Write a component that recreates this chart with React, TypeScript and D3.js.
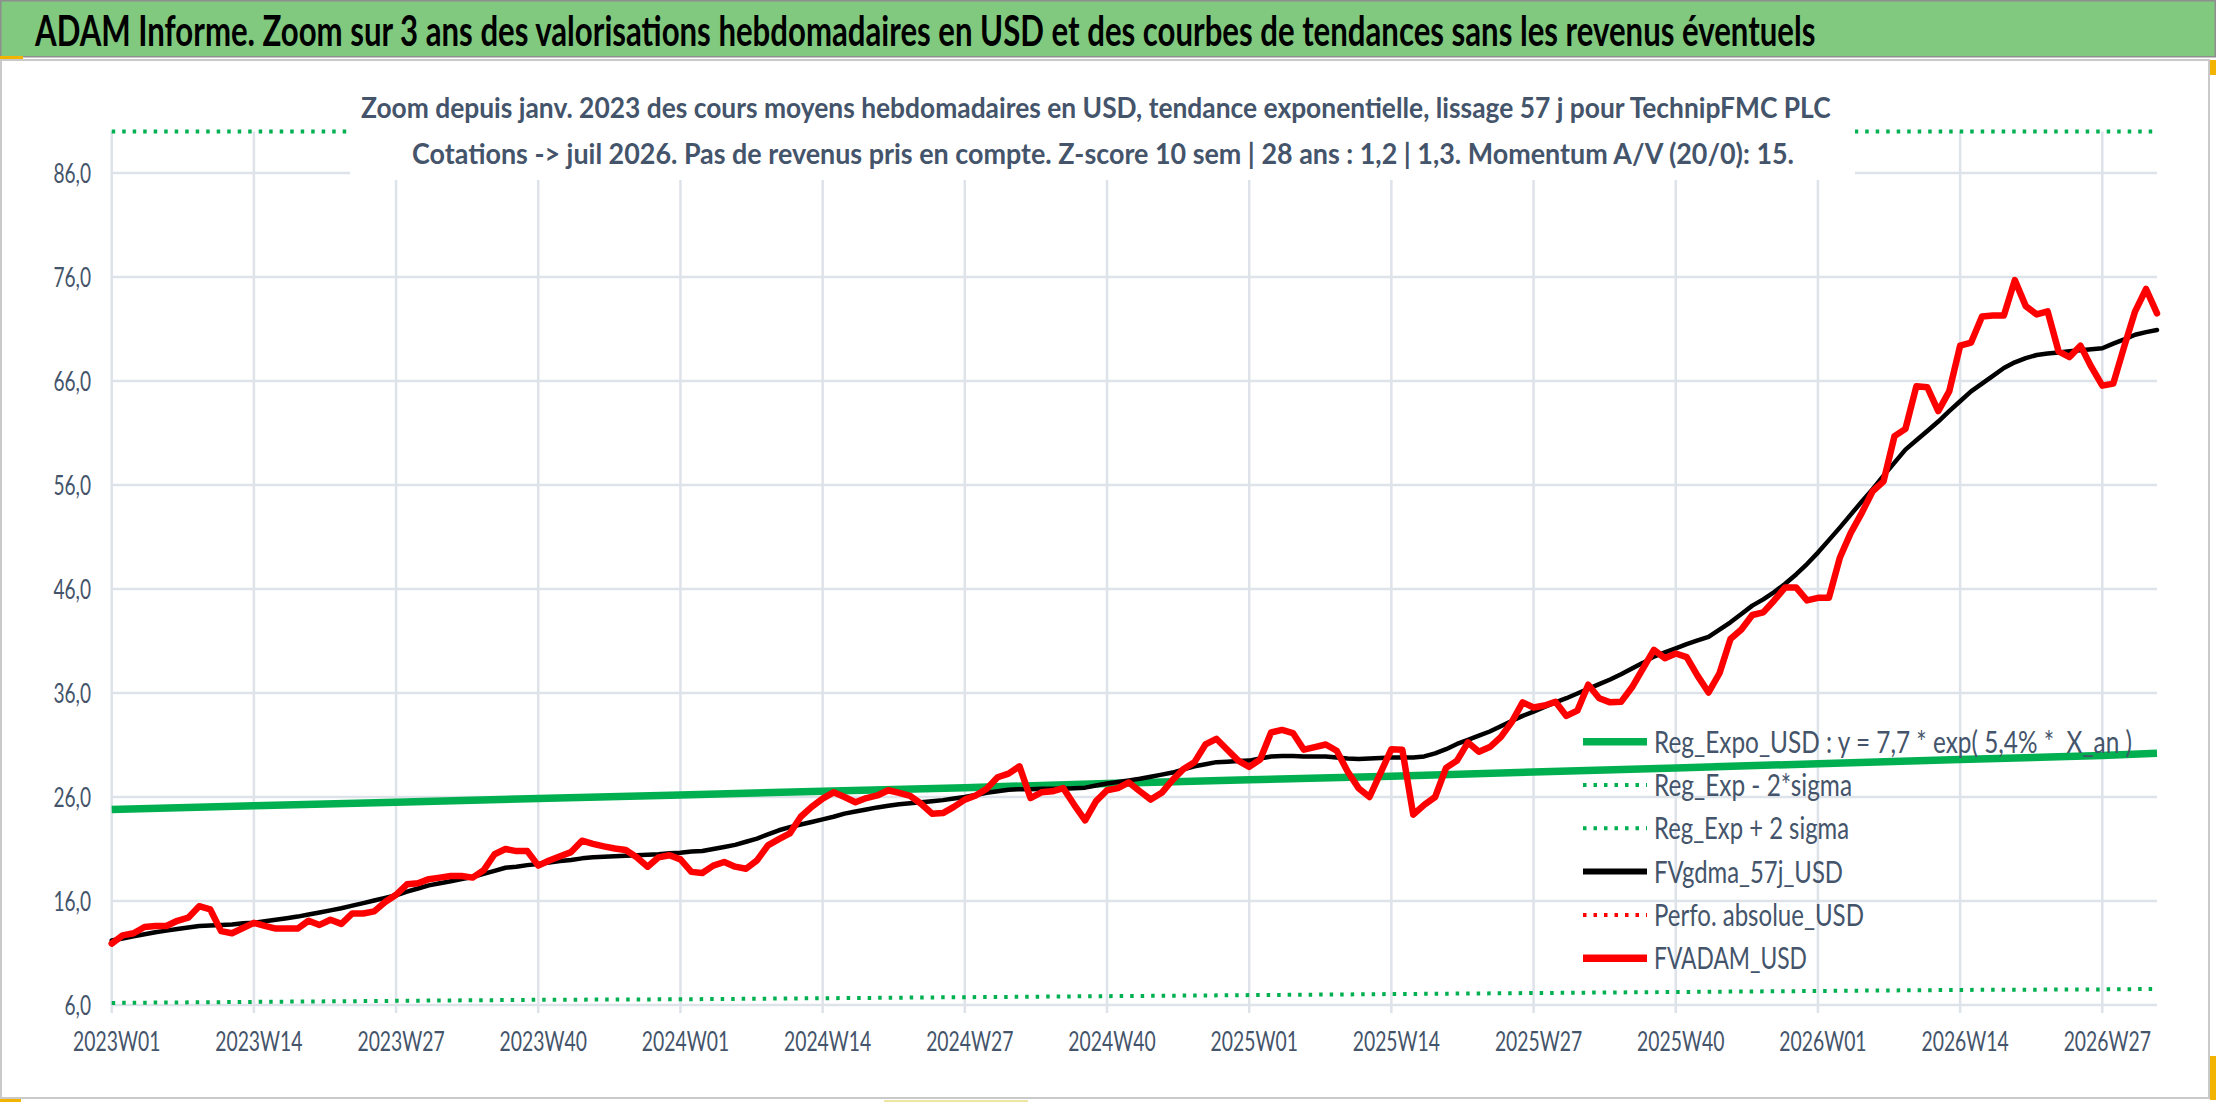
import React, { useLayoutEffect, useRef, useState } from 'react';
import * as d3 from 'd3';

// ---------- categories ----------
const YEAR_WEEKS: [number, number][] = [[2023, 52], [2024, 52], [2025, 52], [2026, 32]];
const weeks: string[] = YEAR_WEEKS.flatMap(([yr, n]) =>
  d3.range(1, n + 1).map((w) => `${yr}W${String(w).padStart(2, '0')}`)
);

const tickLabels = [
  '2023W01', '2023W14', '2023W27', '2023W40', '2024W01', '2024W14', '2024W27', '2024W40',
  '2025W01', '2025W14', '2025W27', '2025W40', '2026W01', '2026W14', '2026W27',
];
const yTicks = [6, 16, 26, 36, 46, 56, 66, 76, 86];

// ---------- series ----------
const fvadamUsd = [
  11.9, 12.7, 12.9, 13.5, 13.6, 13.6, 14.1, 14.4, 15.5, 15.2,
  13.1, 12.9, 13.4, 13.9, 13.6, 13.35, 13.35, 13.35, 14.1, 13.7,
  14.2, 13.8, 14.8, 14.8, 15.0, 15.9, 16.6, 17.6, 17.7, 18.1,
  18.25, 18.4, 18.4, 18.25, 18.95, 20.5, 21.0, 20.8, 20.8, 19.4,
  19.9, 20.3, 20.7, 21.8, 21.5, 21.25, 21.05, 20.9, 20.2, 19.3,
  20.2, 20.4, 20.0, 18.8, 18.7, 19.4, 19.75, 19.3, 19.1, 19.9,
  21.35, 21.95, 22.5, 24.1, 25.05, 25.85, 26.45, 26.0, 25.5, 25.9,
  26.15, 26.65, 26.4, 26.1, 25.35, 24.4, 24.45, 25.05, 25.75, 26.15,
  26.8, 27.9, 28.25, 28.95, 25.9, 26.45, 26.55, 26.85, 25.25, 23.75,
  25.6, 26.65, 26.85, 27.4, 26.55, 25.75, 26.4, 27.65, 28.7, 29.35,
  31.05, 31.6, 30.55, 29.5, 28.9, 29.6, 32.2, 32.45, 32.15, 30.55,
  30.8, 31.05, 30.45, 28.45, 26.85, 26.0, 28.3, 30.6, 30.55, 24.3,
  25.25, 26.0, 28.8, 29.5, 31.25, 30.35, 30.8, 31.75, 33.2, 35.1,
  34.6, 34.8, 35.15, 33.8, 34.3, 36.8, 35.5, 35.1, 35.15, 36.55,
  38.35, 40.15, 39.35, 39.8, 39.45, 37.65, 36.05, 37.9, 41.2, 42.1,
  43.5, 43.75, 44.9, 46.15, 46.15, 44.9, 45.15, 45.15, 49.0, 51.4,
  53.3, 55.4, 56.35, 60.7, 61.4, 65.5, 65.4, 63.1, 65.0, 69.4,
  69.7, 72.2, 72.3, 72.3, 75.7, 73.2, 72.4, 72.7, 68.85, 68.3,
  69.4, 67.35, 65.55, 65.75, 69.3, 72.7, 74.85, 72.5,
];

const fvgdma57jUsd = [
  12.2, 12.4, 12.6, 12.8, 13.0, 13.15, 13.3, 13.45, 13.6, 13.65,
  13.7, 13.75, 13.85, 13.9, 14.05, 14.2, 14.35, 14.5, 14.7, 14.9,
  15.1, 15.3, 15.55, 15.8, 16.05, 16.3, 16.55, 16.9, 17.2, 17.5,
  17.7, 17.9, 18.1, 18.3, 18.6, 18.9, 19.2, 19.3, 19.45, 19.55,
  19.7, 19.85, 19.95, 20.1, 20.2, 20.25, 20.3, 20.35, 20.4, 20.45,
  20.5, 20.6, 20.65, 20.75, 20.8, 21.0, 21.2, 21.4, 21.7, 22.0,
  22.4, 22.8, 23.1, 23.35, 23.6, 23.85, 24.1, 24.4, 24.6, 24.8,
  25.0, 25.15, 25.3, 25.4, 25.5, 25.6, 25.7, 25.85, 26.0, 26.2,
  26.4, 26.55, 26.7, 26.75, 26.75, 26.8, 26.8, 26.8, 26.85, 26.9,
  27.1, 27.3, 27.45, 27.6, 27.75, 27.95, 28.15, 28.35, 28.65, 28.95,
  29.15, 29.35, 29.4, 29.45, 29.5, 29.7, 29.9, 29.95, 29.95, 29.9,
  29.9, 29.9, 29.8, 29.7, 29.65, 29.7, 29.75, 29.8, 29.8, 29.8,
  29.9, 30.2, 30.6, 31.1, 31.5, 31.9, 32.3, 32.8, 33.3, 33.8,
  34.2, 34.65, 35.1, 35.5, 35.95, 36.4, 36.85, 37.3, 37.8, 38.35,
  38.9, 39.5, 39.9, 40.3, 40.7, 41.05, 41.4, 42.1, 42.8, 43.6,
  44.4, 45.0, 45.7, 46.5, 47.4, 48.4, 49.5, 50.7, 51.9, 53.15,
  54.4, 55.6, 56.9, 58.15, 59.4, 60.3, 61.2, 62.1, 63.1, 64.05,
  65.0, 65.75, 66.5, 67.25, 67.8, 68.2, 68.5, 68.65, 68.75, 68.85,
  68.95, 69.05, 69.15, 69.6, 70.0, 70.45, 70.7, 70.9,
];

// regression curves, read at the 13-week gridlines and at the last week
const regWeeks = [
  '2023W01', '2023W14', '2023W27', '2023W40', '2024W01', '2024W14', '2024W27', '2024W40',
  '2025W01', '2025W14', '2025W27', '2025W40', '2026W01', '2026W14', '2026W27', '2026W32',
];
const regExpoUsd = [24.8, 25.15, 25.5, 25.85, 26.2, 26.55, 26.9, 27.3, 27.65, 28.0, 28.4, 28.8, 29.2, 29.6, 30.0, 30.2];
const regMinus2Sigma = [6.2, 6.3, 6.4, 6.5, 6.55, 6.65, 6.75, 6.85, 6.95, 7.05, 7.15, 7.25, 7.35, 7.45, 7.5, 7.55];
// above the axis maximum: drawn pinned to the top of the plot
const regPlus2Sigma = [98.9, 100.3, 101.7, 103.1, 104.5, 105.9, 107.3, 108.9, 110.3, 111.7, 113.3, 114.9, 116.5, 118.1, 119.7, 120.5];

const legendItems = [
  { label: 'Reg_Expo_USD : y = 7,7 * exp( 5,4% *  X_an )', color: '#00B050', dotted: false, width: 7.5, tl: 478 },
  { label: 'Reg_Exp - 2*sigma', color: '#00B050', dotted: true, width: 4, tl: 198 },
  { label: 'Reg_Exp + 2 sigma', color: '#00B050', dotted: true, width: 4, tl: 195 },
  { label: 'FVgdma_57j_USD', color: '#000000', dotted: false, width: 6, tl: 189 },
  { label: 'Perfo. absolue_USD', color: '#FF0000', dotted: true, width: 4, tl: 210 },
  { label: 'FVADAM_USD', color: '#FF0000', dotted: false, width: 7.5, tl: 153 },
];

const TITLE = 'ADAM Informe. Zoom sur 3 ans des valorisations hebdomadaires en USD et des courbes de tendances sans les revenus éventuels';
const SUB1 = 'Zoom depuis janv. 2023 des cours moyens hebdomadaires en USD, tendance exponentielle, lissage 57 j pour TechnipFMC PLC';
const SUB2 = 'Cotations -> juil 2026. Pas de revenus pris en compte. Z-score 10 sem | 28 ans : 1,2 | 1,3. Momentum A/V (20/0): 15.';

const W = 2216;
const H = 1102;
const FONT = 'Lato, "Open Sans", "DejaVu Sans", sans-serif';
const AXIS_COLOR = '#44546A';
const GRID = '#DEE2E9';

// text squeezed horizontally to a measured width
function FitText(props: {
  x: number;
  y: number;
  width: number;
  size: number;
  weight?: number;
  fill: string;
  children: string;
}) {
  const { x, y, width, size, weight = 400, fill, children } = props;
  const ref = useRef<SVGTextElement>(null);
  const [k, setK] = useState(0.72);
  useLayoutEffect(() => {
    const measure = () => {
      if (ref.current) {
        const len = ref.current.getComputedTextLength();
        if (len > 0) setK(width / len);
      }
    };
    measure();
    if ((document as any).fonts?.ready) (document as any).fonts.ready.then(measure);
  }, [width, children, size]);
  return (
    <text
      ref={ref}
      transform={`translate(${x},${y}) scale(${k},1)`}
      fontSize={size}
      fontWeight={weight}
      fill={fill}
      style={{ whiteSpace: 'pre' }}
    >
      {children}
    </text>
  );
}

export default function App() {
  const left = 111.7;
  const right = 2157;
  const top = 131.4;
  const bottom = 1005;

  const x = d3.scalePoint<string>().domain(weeks).range([left, right]);
  const y = d3.scaleLinear().domain([6, 90]).range([bottom, top]);
  const yClamped = y.copy().clamp(true);

  const weekLine = d3
    .line<number>()
    .x((_, i) => x(weeks[i]) as number)
    .y((d) => y(d));
  const regLine = (vals: number[], sc: d3.ScaleLinear<number, number>) =>
    d3
      .line<number>()
      .x((_, i) => x(regWeeks[i]) as number)
      .y((d) => sc(d))(vals) as string;

  const dotted = '3.5 7';

  return (
    <svg
      width={W}
      height={H}
      viewBox={`0 0 ${W} ${H}`}
      style={{ position: 'absolute', left: 0, top: 0, display: 'block', background: '#fff' }}
      fontFamily={FONT}
    >
      {/* chart area */}
      <rect x={1} y={60} width={2208} height={1038} fill="#fff" stroke="#C9C9C9" strokeWidth={2} />

      {/* title bar */}
      <rect x={0.75} y={0.75} width={W - 1.5} height={56} fill="#80C97F" stroke="#8E8E8E" strokeWidth={1.5} />
      <FitText x={35} y={46} width={1781} size={42} weight={700} fill="#000">
        {TITLE}
      </FitText>

      {/* horizontal gridlines */}
      {yTicks.map((t) => (
        <line key={`h${t}`} x1={left} x2={right} y1={y(t)} y2={y(t)} stroke={GRID} strokeWidth={2.5} />
      ))}
      {/* vertical gridlines + ticks */}
      {tickLabels.map((l) => (
        <line
          key={`v${l}`}
          x1={x(l) as number}
          x2={x(l) as number}
          y1={top}
          y2={bottom + 8}
          stroke={GRID}
          strokeWidth={2.5}
        />
      ))}

      {/* y axis labels */}
      {yTicks.map((t) => (
        <text
          key={`yl${t}`}
          transform={`translate(91,${y(t) + 9.5}) scale(0.72,1)`}
          textAnchor="end"
          fontSize={26.5}
          fill={AXIS_COLOR}
        >
          {d3.format('.1f')(t).replace('.', ',')}
        </text>
      ))}
      {/* x axis labels */}
      {tickLabels.map((l) => (
        <text
          key={`xl${l}`}
          transform={`translate(${(x(l) as number) + 5},1051) scale(0.73,1)`}
          textAnchor="middle"
          fontSize={26.5}
          fill={AXIS_COLOR}
        >
          {l}
        </text>
      ))}

      {/* series */}
      <path d={regLine(regExpoUsd, y)} fill="none" stroke="#00B050" strokeWidth={7.5} strokeLinejoin="round" />
      <path d={regLine(regMinus2Sigma, y)} fill="none" stroke="#00B050" strokeWidth={4} strokeDasharray={dotted} />
      <path d={regLine(regPlus2Sigma, yClamped)} fill="none" stroke="#00B050" strokeWidth={4} strokeDasharray={dotted} />
      <path
        d={weekLine(fvgdma57jUsd) as string}
        fill="none"
        stroke="#000"
        strokeWidth={4.5}
        strokeLinejoin="round"
        strokeLinecap="round"
      />
      <path
        d={weekLine(fvadamUsd) as string}
        fill="none"
        stroke="#FF0000"
        strokeWidth={6.5}
        strokeLinejoin="round"
        strokeLinecap="round"
      />

      {/* subtitle box */}
      <rect x={350} y={72} width={1505} height={108} fill="#fff" />
      <FitText x={361} y={118} width={1470} size={28} weight={700} fill={AXIS_COLOR}>
        {SUB1}
      </FitText>
      <FitText x={412} y={164} width={1383} size={28} weight={700} fill={AXIS_COLOR}>
        {SUB2}
      </FitText>

      {/* legend */}
      {legendItems.map((it, i) => {
        const cy = 741.7 + i * 43.3;
        return (
          <g key={it.label}>
            <line
              x1={1583}
              x2={1647}
              y1={cy}
              y2={cy}
              stroke={it.color}
              strokeWidth={it.width}
              strokeDasharray={it.dotted ? dotted : undefined}
            />
            <FitText x={1654} y={cy + 11} width={it.tl} size={30} fill={AXIS_COLOR}>
              {it.label}
            </FitText>
          </g>
        );
      })}

      {/* small accent marks at the frame corners */}
      <rect x={0} y={56} width={23} height={3} fill="#F2B400" />
      <rect x={2210} y={60} width={6} height={15} fill="#F2B400" />
      <rect x={2210} y={1056} width={6} height={44} fill="#F2B400" />
      <rect x={0} y={1099} width={21} height={3} fill="#F2B400" />
      <rect x={884} y={1100} width={144} height={2} fill="#EEE6A0" />
    </svg>
  );
}
